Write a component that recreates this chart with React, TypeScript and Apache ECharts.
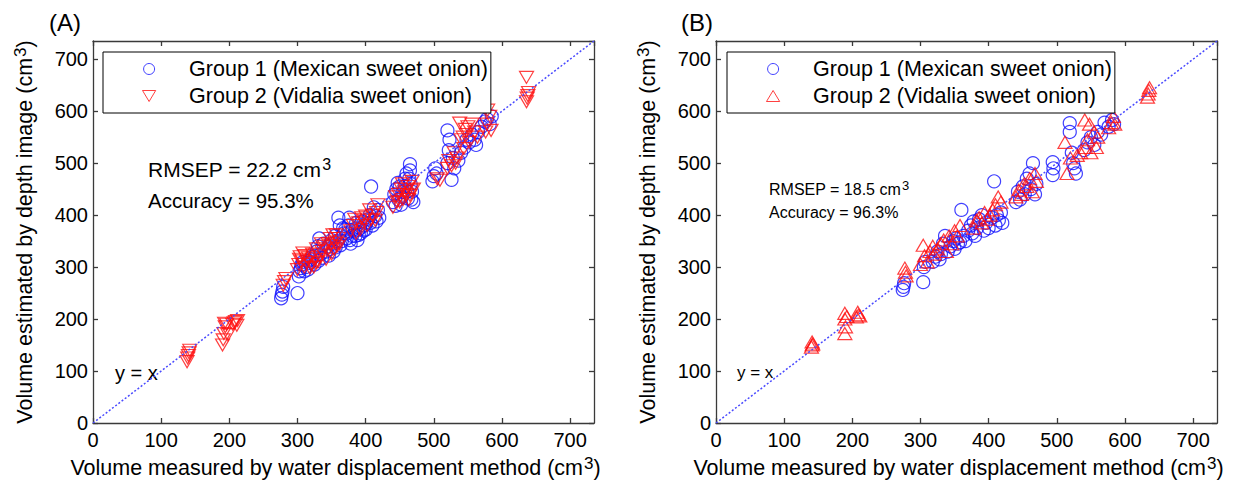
import React, { useEffect, useRef } from "react";
import * as echarts from "echarts";

const FONT = '"Liberation Sans", Arial, Helvetica, sans-serif';

// Axis range shared by both panels (cm^3)
const AXIS_MAX = 735;
const AXIS_STEP = 100;

const GROUP1_NAME = "Group 1 (Mexican sweet onion)";
const GROUP2_NAME = "Group 2 (Vidalia sweet onion)";

// Panel A: [measured by water displacement, estimated by depth image]
const groupA1: number[][] = [
  [276, 240], [277, 247], [278, 253], [279, 262],
  [300, 250], [302, 282], [303, 292], [305, 298], [306, 305], [308, 310],
  [312, 300], [315, 295], [318, 308], [320, 315], [322, 320], [310, 292], [316, 312],
  [325, 305], [328, 330], [330, 340], [332, 355], [334, 325], [336, 318], [338, 345], [326, 322], [331, 312],
  [342, 330], [345, 340], [348, 335], [350, 352], [352, 345], [355, 360], [356, 338], [358, 350], [346, 322], [353, 330],
  [360, 395], [362, 380], [365, 350], [368, 365], [370, 372], [372, 355], [375, 380], [376, 395], [378, 345], [380, 360],
  [363, 342], [367, 375], [373, 365], [377, 352], [381, 372],
  [384, 370], [386, 385], [388, 352], [390, 362], [392, 375], [395, 388], [398, 380], [400, 372],
  [385, 360], [389, 372], [393, 365], [397, 370], [401, 385],
  [404, 392], [406, 400], [408, 455], [410, 380], [412, 415], [414, 398], [418, 410], [420, 395], [407, 385], [416, 388],
  [440, 425], [442, 440], [445, 450], [448, 430], [450, 455], [452, 420], [455, 445], [458, 470],
  [460, 480], [462, 432], [465, 498], [466, 460], [468, 445], [470, 425], [465, 486],
  [444, 418], [447, 462], [453, 435], [457, 455], [461, 445], [464, 470], [467, 430],
  [498, 465], [500, 475], [502, 490], [504, 480],
  [520, 500], [522, 525], [523, 545], [520, 563], [526, 468], [528, 510], [530, 490],
  [540, 520], [545, 530], [548, 545], [552, 540], [556, 555], [560, 545], [565, 560],
  [570, 570], [575, 580], [578, 585], [582, 575], [585, 590], [536, 505], [562, 535],
];

const groupA2: number[][] = [
  [138, 118], [139, 125], [140, 130], [141, 135], [142, 140],
  [190, 150], [191, 160], [192, 172], [193, 192], [194, 185], [196, 190], [198, 170],
  [205, 190], [207, 193], [209, 195], [211, 188], [212, 197],
  [279, 265], [281, 272], [283, 278],
  [300, 295], [302, 305], [304, 320], [306, 312], [308, 327], [310, 300], [314, 310], [316, 318],
  [320, 305], [322, 325], [324, 300], [326, 315], [328, 335], [330, 310], [333, 320], [336, 330],
  [303, 315], [311, 322], [318, 298], [327, 308], [335, 345],
  [340, 340], [342, 315], [345, 345], [348, 355], [350, 325], [352, 362], [355, 348], [358, 340], [360, 355],
  [344, 332], [349, 342], [354, 335], [357, 362], [362, 345],
  [378, 370], [382, 380], [386, 365], [390, 385], [394, 395], [398, 390], [402, 380], [406, 410],
  [410, 400], [414, 390], [418, 420], [384, 392], [392, 372], [400, 398], [408, 392], [416, 405],
  [440, 415], [444, 435], [448, 440], [450, 425], [452, 450], [455, 430], [458, 445], [460, 440],
  [462, 455], [465, 438], [468, 465], [470, 450], [446, 425], [454, 460], [463, 430], [467, 448],
  [505, 470], [509, 467],
  [520, 490], [522, 505], [526, 495], [530, 520], [534, 510], [538, 577], [540, 545], [543, 550],
  [546, 565], [548, 555], [550, 570], [552, 540], [556, 575], [560, 560], [564, 550], [532, 500], [544, 528],
  [576, 560], [578, 575], [579, 602], [582, 590], [584, 563],
  [636, 618], [637, 625], [638, 630], [639, 636], [636, 665],
];

// Panel B
const groupB1: number[][] = [
  [274, 256], [275, 262], [276, 269],
  [304, 271], [305, 300], [307, 310],
  [318, 310], [322, 320], [325, 330], [328, 315], [330, 325], [333, 345], [336, 360],
  [340, 330], [344, 340], [348, 350], [350, 335], [352, 355], [355, 345], [358, 348], [360, 410], [363, 360], [366, 350],
  [370, 370], [374, 380], [376, 365], [378, 388], [380, 360], [383, 375], [386, 392], [390, 400], [393, 370], [396, 385], [400, 375],
  [405, 395], [408, 465], [410, 380], [412, 400], [415, 390], [418, 405], [420, 385],
  [440, 425], [443, 445], [446, 430], [450, 455], [453, 440], [456, 470], [460, 480], [462, 450],
  [465, 500], [468, 440], [470, 460],
  [494, 477], [495, 490], [494, 502],
  [519, 577], [519, 560], [522, 520], [524, 500], [526, 490], [528, 480],
  [540, 525], [545, 540], [550, 550], [555, 535], [560, 560], [565, 555], [570, 578], [576, 570], [581, 583], [584, 575],
];

const groupB2: number[][] = [
  [140, 146], [141, 150], [141, 156], [142, 152],
  [189, 172], [190, 185], [189, 200], [189, 211], [192, 205], [206, 204], [208, 213], [209, 208], [211, 206],
  [277, 298], [278, 290], [279, 283],
  [300, 305], [304, 342], [306, 322], [310, 310], [314, 330], [318, 340], [320, 325],
  [325, 335], [330, 345], [334, 352], [338, 330], [342, 360], [346, 345], [350, 370], [354, 360], [358, 380],
  [378, 375], [382, 390], [386, 395], [390, 385], [394, 405], [398, 392], [402, 400], [406, 410],
  [410, 420], [414, 435], [418, 425],
  [440, 435], [444, 448], [448, 440], [452, 460], [456, 455], [460, 470], [464, 445], [468, 480], [470, 465],
  [515, 480], [512, 540], [520, 510],
  [530, 515], [535, 520], [541, 583], [542, 530], [545, 545], [548, 575], [550, 520], [555, 560], [558, 530], [560, 550],
  [576, 568], [580, 578], [583, 590], [585, 575],
  [633, 627], [634, 633], [635, 640], [636, 645],
];

const BLUE = "#1010ff";
const RED = "#ff1010";
const AXIS_COLOR = "#3a3a3a";

const superRich = (size: number, supSize: number, lh: number, raise: number) => ({
  t: { fontSize: size, fontFamily: FONT, color: "#000", lineHeight: lh, verticalAlign: "bottom" },
  s: {
    fontSize: supSize,
    fontFamily: FONT,
    color: "#000",
    lineHeight: supSize,
    padding: [0, 0, raise, 1],
    verticalAlign: "top",
  },
});

const tickFormatter = (v: number) => (v % AXIS_STEP === 0 ? String(v) : "");

function buildAxes(panel: number) {
  const lineStyle = { color: AXIS_COLOR, width: 1.3 };
  const base = {
    type: "value",
    gridIndex: panel,
    min: 0,
    max: AXIS_MAX,
    interval: AXIS_STEP,
    splitLine: { show: false },
    axisLine: { show: true, onZero: false, lineStyle },
    axisTick: { show: true, inside: true, length: 5, lineStyle },
  };
  const labelStyle = {
    color: "#000",
    fontSize: 20,
    fontFamily: FONT,
    formatter: tickFormatter,
    showMaxLabel: false,
  };
  const xAxes = [
    {
      ...base,
      position: "bottom",
      axisLabel: { ...labelStyle, margin: 7 },
      name: "{t|Volume measured by water displacement method (cm}{s|3}{t|)}",
      nameLocation: "middle",
      nameGap: 25,
      nameTextStyle: { rich: superRich(21.5, 17, 24, 14), padding: [0, 16, 0, 0] },
    },
    { ...base, position: "top", axisLabel: { show: false } },
  ];
  const yAxes = [
    {
      ...base,
      position: "left",
      axisLabel: { ...labelStyle, margin: 5 },
      name: "{t|Volume estimated by depth image (cm}{s|3}{t|)}",
      nameLocation: "middle",
      nameGap: 57,
      nameTextStyle: { rich: superRich(21.5, 17, 24, 14) },
    },
    { ...base, position: "right", axisLabel: { show: false } },
  ];
  return { xAxes, yAxes };
}

function buildSeries(panel: number, g1: number[][], g2: number[][], downTriangles: boolean) {
  const idx = { xAxisIndex: panel * 2, yAxisIndex: panel * 2 };
  return [
    {
      type: "scatter",
      name: GROUP1_NAME,
      ...idx,
      data: g1,
      symbol: "circle",
      symbolSize: 13,
      itemStyle: { color: "rgba(0,0,0,0)", borderColor: BLUE, borderWidth: 1.2 },
      z: 2,
    },
    {
      type: "scatter",
      name: GROUP2_NAME,
      ...idx,
      data: g2,
      symbol: "triangle",
      symbolRotate: downTriangles ? 180 : 0,
      symbolSize: [14, 12],
      itemStyle: { color: "rgba(0,0,0,0)", borderColor: RED, borderWidth: 1.2 },
      z: 3,
    },
    {
      type: "line",
      name: "y = x",
      ...idx,
      data: [
        [0, 0],
        [AXIS_MAX, AXIS_MAX],
      ],
      symbol: "none",
      silent: true,
      lineStyle: { type: [2, 2], color: "#4a4aff", width: 1.5 },
      z: 4,
    },
  ];
}

function buildLegend(left: number, downTriangles: boolean) {
  return {
    left,
    top: 52,
    orient: "vertical",
    backgroundColor: "#fff",
    borderColor: "#000",
    borderWidth: 1,
    padding: [5, 3, 5, 39],
    itemGap: 3,
    itemWidth: 70,
    itemHeight: 11,
    selectedMode: false,
    textStyle: { fontSize: 21.5, fontFamily: FONT, color: "#000", lineHeight: 24 },
    data: [
      {
        name: GROUP1_NAME,
        icon: "circle",
        itemStyle: { color: "rgba(0,0,0,0)", borderColor: BLUE, borderWidth: 1 },
      },
      {
        name: GROUP2_NAME,
        icon: downTriangles ? "path://M0,0L12,0L6,10Z" : "path://M6,0L12,10L0,10Z",
        itemStyle: { color: "rgba(0,0,0,0)", borderColor: RED, borderWidth: 1 },
      },
    ],
  };
}

function annotation(x: number, y: number, text: string, size: number, supSize: number, raise: number) {
  return {
    type: "text",
    x,
    y,
    silent: true,
    style: {
      text,
      rich: superRich(size, supSize, size + 3, raise),
      align: "left",
      verticalAlign: "middle",
    },
  };
}

function plainText(x: number, y: number, text: string, size: number) {
  return {
    type: "text",
    x,
    y,
    silent: true,
    style: {
      text,
      fontSize: size,
      fontFamily: FONT,
      fill: "#000",
      align: "left",
      verticalAlign: "middle",
    },
  };
}

export default function App() {
  const ref = useRef<HTMLDivElement>(null);

  useEffect(() => {
    if (!ref.current) return;
    const chart = echarts.init(ref.current, null, { renderer: "svg" });
    const a = buildAxes(0);
    const b = buildAxes(1);
    chart.setOption({
      animation: false,
      backgroundColor: "#fff",
      grid: [
        { left: 93, top: 41, width: 501, height: 382 },
        { left: 716, top: 41, width: 501, height: 382 },
      ],
      xAxis: [...a.xAxes, ...b.xAxes],
      yAxis: [...a.yAxes, ...b.yAxes],
      legend: [buildLegend(103, true), buildLegend(727, false)],
      series: [
        ...buildSeries(0, groupA1, groupA2, true),
        ...buildSeries(1, groupB1, groupB2, false),
      ],
      graphic: [
        plainText(49, 22, "(A)", 24),
        plainText(681, 22, "(B)", 24),
        annotation(148, 168, "{t|RMSEP = 22.2 cm}{s|3}", 21, 16, 10),
        plainText(148, 200, "Accuracy = 95.3%", 20.5),
        plainText(115, 373, "y = x", 20),
        annotation(769, 188, "{t|RMSEP = 18.5 cm}{s|3}", 16, 13, 7),
        plainText(769, 212, "Accuracy = 96.3%", 16),
        plainText(737, 372, "y = x", 17),
      ],
    });
    return () => chart.dispose();
  }, []);

  return (
    <div
      ref={ref}
      style={{ position: "fixed", left: 0, top: 0, width: 1252, height: 492, background: "#fff" }}
    />
  );
}
